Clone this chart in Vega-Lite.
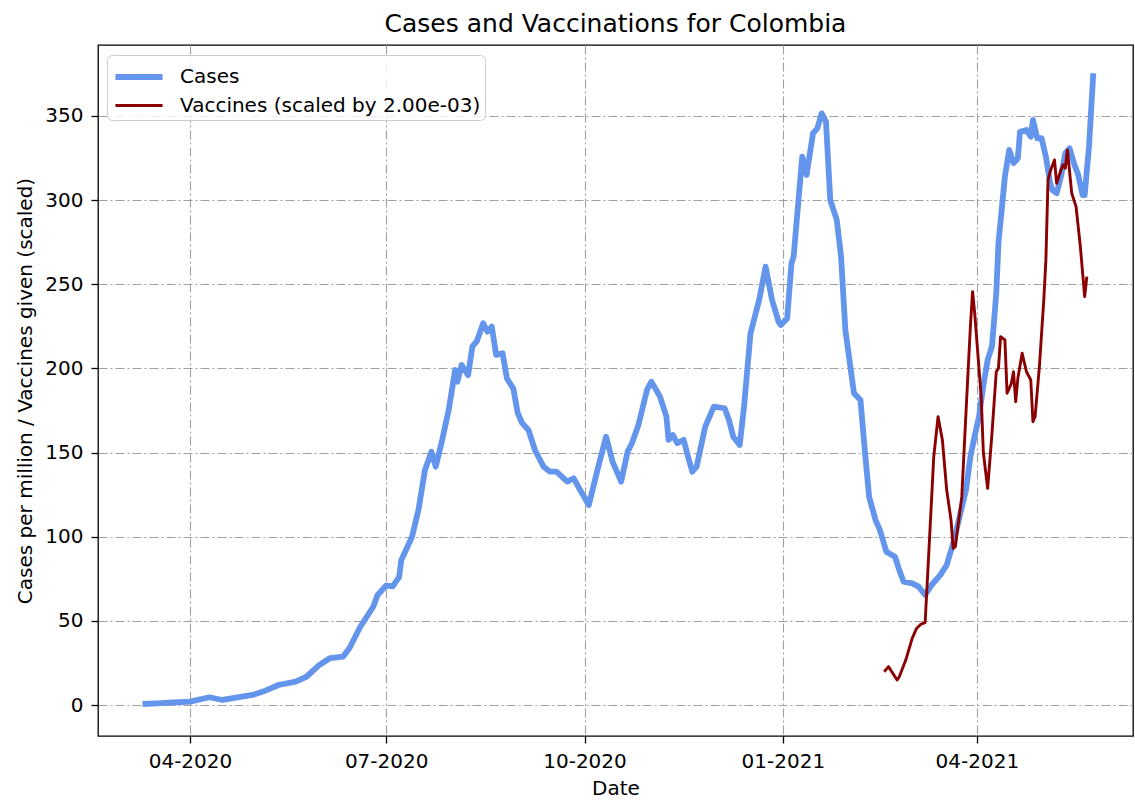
{
  "$schema": "https://vega.github.io/schema/vega-lite/v6.json",
  "autosize": {"type": "none"},
  "width": 1035,
  "height": 691,
  "padding": {"left": 98, "top": 45, "right": 2, "bottom": 65},
  "background": "white",
  "config": {
    "font": "DejaVu Sans",
    "view": {"stroke": "black", "strokeWidth": 1.3},
    "axis": {
      "labelFont": "DejaVu Sans", "titleFont": "DejaVu Sans",
      "labelFontSize": 20, "titleFontSize": 20, "labelColor": "black", "titleColor": "black",
      "titleFontWeight": "normal", "domain": false, "tickColor": "black", "tickSize": 7, "tickWidth": 1.3,
      "gridColor": "#a0a0a0", "gridDash": [9, 3, 2, 3], "gridWidth": 1.1, "gridOpacity": 1
    }
  },
  "title": {"text": "Cases and Vaccinations for Colombia", "fontSize": 25, "fontWeight": "normal", "font": "DejaVu Sans", "color": "black", "offset": 8, "anchor": "middle"},
  "data": {"values": [
    {"d": "2020-03-10", "v": 0.6, "s": "Cases"},
    {"d": "2020-03-17", "v": 1.0, "s": "Cases"},
    {"d": "2020-03-24", "v": 1.5, "s": "Cases"},
    {"d": "2020-04-01", "v": 2.0, "s": "Cases"},
    {"d": "2020-04-10", "v": 4.6, "s": "Cases"},
    {"d": "2020-04-16", "v": 3.0, "s": "Cases"},
    {"d": "2020-04-23", "v": 4.5, "s": "Cases"},
    {"d": "2020-04-30", "v": 6.0, "s": "Cases"},
    {"d": "2020-05-06", "v": 8.5, "s": "Cases"},
    {"d": "2020-05-12", "v": 11.9, "s": "Cases"},
    {"d": "2020-05-20", "v": 13.9, "s": "Cases"},
    {"d": "2020-05-25", "v": 16.8, "s": "Cases"},
    {"d": "2020-05-31", "v": 23.8, "s": "Cases"},
    {"d": "2020-06-05", "v": 27.9, "s": "Cases"},
    {"d": "2020-06-11", "v": 28.7, "s": "Cases"},
    {"d": "2020-06-14", "v": 33.9, "s": "Cases"},
    {"d": "2020-06-19", "v": 46.5, "s": "Cases"},
    {"d": "2020-06-25", "v": 58.4, "s": "Cases"},
    {"d": "2020-06-27", "v": 65.4, "s": "Cases"},
    {"d": "2020-07-01", "v": 71.0, "s": "Cases"},
    {"d": "2020-07-04", "v": 70.5, "s": "Cases"},
    {"d": "2020-07-07", "v": 76.0, "s": "Cases"},
    {"d": "2020-07-08", "v": 86.0, "s": "Cases"},
    {"d": "2020-07-13", "v": 100.0, "s": "Cases"},
    {"d": "2020-07-16", "v": 116.0, "s": "Cases"},
    {"d": "2020-07-19", "v": 139.6, "s": "Cases"},
    {"d": "2020-07-22", "v": 150.5, "s": "Cases"},
    {"d": "2020-07-24", "v": 141.6, "s": "Cases"},
    {"d": "2020-07-27", "v": 157.5, "s": "Cases"},
    {"d": "2020-07-30", "v": 175.3, "s": "Cases"},
    {"d": "2020-08-02", "v": 199.0, "s": "Cases"},
    {"d": "2020-08-03", "v": 192.0, "s": "Cases"},
    {"d": "2020-08-05", "v": 202.0, "s": "Cases"},
    {"d": "2020-08-08", "v": 196.0, "s": "Cases"},
    {"d": "2020-08-10", "v": 213.0, "s": "Cases"},
    {"d": "2020-08-12", "v": 216.0, "s": "Cases"},
    {"d": "2020-08-15", "v": 226.8, "s": "Cases"},
    {"d": "2020-08-17", "v": 221.8, "s": "Cases"},
    {"d": "2020-08-19", "v": 224.8, "s": "Cases"},
    {"d": "2020-08-21", "v": 208.0, "s": "Cases"},
    {"d": "2020-08-24", "v": 209.0, "s": "Cases"},
    {"d": "2020-08-26", "v": 194.0, "s": "Cases"},
    {"d": "2020-08-29", "v": 188.0, "s": "Cases"},
    {"d": "2020-08-31", "v": 173.5, "s": "Cases"},
    {"d": "2020-09-02", "v": 167.6, "s": "Cases"},
    {"d": "2020-09-05", "v": 163.4, "s": "Cases"},
    {"d": "2020-09-08", "v": 151.5, "s": "Cases"},
    {"d": "2020-09-12", "v": 141.6, "s": "Cases"},
    {"d": "2020-09-15", "v": 138.6, "s": "Cases"},
    {"d": "2020-09-18", "v": 138.6, "s": "Cases"},
    {"d": "2020-09-23", "v": 132.7, "s": "Cases"},
    {"d": "2020-09-26", "v": 134.7, "s": "Cases"},
    {"d": "2020-09-29", "v": 127.7, "s": "Cases"},
    {"d": "2020-10-03", "v": 118.8, "s": "Cases"},
    {"d": "2020-10-07", "v": 139.6, "s": "Cases"},
    {"d": "2020-10-11", "v": 159.4, "s": "Cases"},
    {"d": "2020-10-14", "v": 144.6, "s": "Cases"},
    {"d": "2020-10-18", "v": 132.7, "s": "Cases"},
    {"d": "2020-10-21", "v": 150.5, "s": "Cases"},
    {"d": "2020-10-23", "v": 155.5, "s": "Cases"},
    {"d": "2020-10-26", "v": 166.4, "s": "Cases"},
    {"d": "2020-10-30", "v": 187.2, "s": "Cases"},
    {"d": "2020-11-01", "v": 192.1, "s": "Cases"},
    {"d": "2020-11-05", "v": 183.2, "s": "Cases"},
    {"d": "2020-11-08", "v": 171.3, "s": "Cases"},
    {"d": "2020-11-09", "v": 157.5, "s": "Cases"},
    {"d": "2020-11-11", "v": 160.4, "s": "Cases"},
    {"d": "2020-11-13", "v": 155.5, "s": "Cases"},
    {"d": "2020-11-16", "v": 157.5, "s": "Cases"},
    {"d": "2020-11-18", "v": 147.6, "s": "Cases"},
    {"d": "2020-11-20", "v": 138.6, "s": "Cases"},
    {"d": "2020-11-22", "v": 141.6, "s": "Cases"},
    {"d": "2020-11-26", "v": 165.4, "s": "Cases"},
    {"d": "2020-11-30", "v": 177.3, "s": "Cases"},
    {"d": "2020-12-05", "v": 176.3, "s": "Cases"},
    {"d": "2020-12-07", "v": 169.3, "s": "Cases"},
    {"d": "2020-12-09", "v": 159.4, "s": "Cases"},
    {"d": "2020-12-12", "v": 154.5, "s": "Cases"},
    {"d": "2020-12-14", "v": 177.3, "s": "Cases"},
    {"d": "2020-12-17", "v": 220.8, "s": "Cases"},
    {"d": "2020-12-21", "v": 240.6, "s": "Cases"},
    {"d": "2020-12-24", "v": 260.4, "s": "Cases"},
    {"d": "2020-12-27", "v": 240.6, "s": "Cases"},
    {"d": "2020-12-30", "v": 227.8, "s": "Cases"},
    {"d": "2020-12-31", "v": 225.8, "s": "Cases"},
    {"d": "2021-01-03", "v": 229.7, "s": "Cases"},
    {"d": "2021-01-05", "v": 262.4, "s": "Cases"},
    {"d": "2021-01-06", "v": 266.4, "s": "Cases"},
    {"d": "2021-01-10", "v": 325.8, "s": "Cases"},
    {"d": "2021-01-12", "v": 314.9, "s": "Cases"},
    {"d": "2021-01-15", "v": 339.7, "s": "Cases"},
    {"d": "2021-01-17", "v": 342.6, "s": "Cases"},
    {"d": "2021-01-19", "v": 351.5, "s": "Cases"},
    {"d": "2021-01-21", "v": 346.6, "s": "Cases"},
    {"d": "2021-01-23", "v": 300.0, "s": "Cases"},
    {"d": "2021-01-26", "v": 288.2, "s": "Cases"},
    {"d": "2021-01-28", "v": 266.4, "s": "Cases"},
    {"d": "2021-01-30", "v": 222.8, "s": "Cases"},
    {"d": "2021-02-03", "v": 185.2, "s": "Cases"},
    {"d": "2021-02-06", "v": 181.2, "s": "Cases"},
    {"d": "2021-02-08", "v": 151.5, "s": "Cases"},
    {"d": "2021-02-10", "v": 123.8, "s": "Cases"},
    {"d": "2021-02-13", "v": 109.9, "s": "Cases"},
    {"d": "2021-02-15", "v": 104.0, "s": "Cases"},
    {"d": "2021-02-18", "v": 91.1, "s": "Cases"},
    {"d": "2021-02-22", "v": 88.1, "s": "Cases"},
    {"d": "2021-02-24", "v": 80.2, "s": "Cases"},
    {"d": "2021-02-26", "v": 73.3, "s": "Cases"},
    {"d": "2021-03-02", "v": 72.3, "s": "Cases"},
    {"d": "2021-03-05", "v": 70.3, "s": "Cases"},
    {"d": "2021-03-08", "v": 65.4, "s": "Cases"},
    {"d": "2021-03-11", "v": 71.3, "s": "Cases"},
    {"d": "2021-03-15", "v": 77.2, "s": "Cases"},
    {"d": "2021-03-18", "v": 83.2, "s": "Cases"},
    {"d": "2021-03-21", "v": 96.0, "s": "Cases"},
    {"d": "2021-03-24", "v": 111.9, "s": "Cases"},
    {"d": "2021-03-27", "v": 128.0, "s": "Cases"},
    {"d": "2021-03-29", "v": 147.6, "s": "Cases"},
    {"d": "2021-03-31", "v": 160.0, "s": "Cases"},
    {"d": "2021-04-02", "v": 171.3, "s": "Cases"},
    {"d": "2021-04-04", "v": 190.0, "s": "Cases"},
    {"d": "2021-04-06", "v": 205.0, "s": "Cases"},
    {"d": "2021-04-08", "v": 213.0, "s": "Cases"},
    {"d": "2021-04-10", "v": 244.6, "s": "Cases"},
    {"d": "2021-04-11", "v": 274.3, "s": "Cases"},
    {"d": "2021-04-14", "v": 313.9, "s": "Cases"},
    {"d": "2021-04-16", "v": 329.8, "s": "Cases"},
    {"d": "2021-04-18", "v": 321.9, "s": "Cases"},
    {"d": "2021-04-20", "v": 324.8, "s": "Cases"},
    {"d": "2021-04-21", "v": 340.6, "s": "Cases"},
    {"d": "2021-04-24", "v": 341.6, "s": "Cases"},
    {"d": "2021-04-26", "v": 337.6, "s": "Cases"},
    {"d": "2021-04-27", "v": 347.6, "s": "Cases"},
    {"d": "2021-04-29", "v": 336.7, "s": "Cases"},
    {"d": "2021-05-01", "v": 336.7, "s": "Cases"},
    {"d": "2021-05-03", "v": 325.8, "s": "Cases"},
    {"d": "2021-05-05", "v": 309.9, "s": "Cases"},
    {"d": "2021-05-06", "v": 306.0, "s": "Cases"},
    {"d": "2021-05-08", "v": 304.0, "s": "Cases"},
    {"d": "2021-05-10", "v": 313.9, "s": "Cases"},
    {"d": "2021-05-12", "v": 327.8, "s": "Cases"},
    {"d": "2021-05-14", "v": 330.7, "s": "Cases"},
    {"d": "2021-05-16", "v": 321.9, "s": "Cases"},
    {"d": "2021-05-18", "v": 315.0, "s": "Cases"},
    {"d": "2021-05-20", "v": 303.0, "s": "Cases"},
    {"d": "2021-05-21", "v": 303.0, "s": "Cases"},
    {"d": "2021-05-23", "v": 331.7, "s": "Cases"},
    {"d": "2021-05-25", "v": 375.3, "s": "Cases"},
    {"d": "2021-02-17", "v": 19.8, "s": "Vaccines (scaled by 2.00e-03)"},
    {"d": "2021-02-19", "v": 22.8, "s": "Vaccines (scaled by 2.00e-03)"},
    {"d": "2021-02-23", "v": 14.9, "s": "Vaccines (scaled by 2.00e-03)"},
    {"d": "2021-02-24", "v": 16.8, "s": "Vaccines (scaled by 2.00e-03)"},
    {"d": "2021-02-27", "v": 26.7, "s": "Vaccines (scaled by 2.00e-03)"},
    {"d": "2021-03-02", "v": 39.6, "s": "Vaccines (scaled by 2.00e-03)"},
    {"d": "2021-03-04", "v": 45.5, "s": "Vaccines (scaled by 2.00e-03)"},
    {"d": "2021-03-06", "v": 48.0, "s": "Vaccines (scaled by 2.00e-03)"},
    {"d": "2021-03-08", "v": 49.0, "s": "Vaccines (scaled by 2.00e-03)"},
    {"d": "2021-03-10", "v": 98.0, "s": "Vaccines (scaled by 2.00e-03)"},
    {"d": "2021-03-12", "v": 147.6, "s": "Vaccines (scaled by 2.00e-03)"},
    {"d": "2021-03-14", "v": 171.3, "s": "Vaccines (scaled by 2.00e-03)"},
    {"d": "2021-03-16", "v": 157.5, "s": "Vaccines (scaled by 2.00e-03)"},
    {"d": "2021-03-18", "v": 127.7, "s": "Vaccines (scaled by 2.00e-03)"},
    {"d": "2021-03-20", "v": 110.0, "s": "Vaccines (scaled by 2.00e-03)"},
    {"d": "2021-03-21", "v": 93.0, "s": "Vaccines (scaled by 2.00e-03)"},
    {"d": "2021-03-22", "v": 94.0, "s": "Vaccines (scaled by 2.00e-03)"},
    {"d": "2021-03-25", "v": 123.8, "s": "Vaccines (scaled by 2.00e-03)"},
    {"d": "2021-03-27", "v": 175.0, "s": "Vaccines (scaled by 2.00e-03)"},
    {"d": "2021-03-29", "v": 225.0, "s": "Vaccines (scaled by 2.00e-03)"},
    {"d": "2021-03-30", "v": 245.6, "s": "Vaccines (scaled by 2.00e-03)"},
    {"d": "2021-03-31", "v": 232.7, "s": "Vaccines (scaled by 2.00e-03)"},
    {"d": "2021-04-03", "v": 183.0, "s": "Vaccines (scaled by 2.00e-03)"},
    {"d": "2021-04-04", "v": 150.0, "s": "Vaccines (scaled by 2.00e-03)"},
    {"d": "2021-04-06", "v": 128.7, "s": "Vaccines (scaled by 2.00e-03)"},
    {"d": "2021-04-08", "v": 161.4, "s": "Vaccines (scaled by 2.00e-03)"},
    {"d": "2021-04-10", "v": 198.0, "s": "Vaccines (scaled by 2.00e-03)"},
    {"d": "2021-04-11", "v": 200.0, "s": "Vaccines (scaled by 2.00e-03)"},
    {"d": "2021-04-12", "v": 218.8, "s": "Vaccines (scaled by 2.00e-03)"},
    {"d": "2021-04-14", "v": 216.9, "s": "Vaccines (scaled by 2.00e-03)"},
    {"d": "2021-04-15", "v": 185.2, "s": "Vaccines (scaled by 2.00e-03)"},
    {"d": "2021-04-17", "v": 191.1, "s": "Vaccines (scaled by 2.00e-03)"},
    {"d": "2021-04-18", "v": 198.0, "s": "Vaccines (scaled by 2.00e-03)"},
    {"d": "2021-04-19", "v": 180.2, "s": "Vaccines (scaled by 2.00e-03)"},
    {"d": "2021-04-20", "v": 194.1, "s": "Vaccines (scaled by 2.00e-03)"},
    {"d": "2021-04-22", "v": 209.0, "s": "Vaccines (scaled by 2.00e-03)"},
    {"d": "2021-04-24", "v": 198.0, "s": "Vaccines (scaled by 2.00e-03)"},
    {"d": "2021-04-26", "v": 193.1, "s": "Vaccines (scaled by 2.00e-03)"},
    {"d": "2021-04-27", "v": 168.3, "s": "Vaccines (scaled by 2.00e-03)"},
    {"d": "2021-04-28", "v": 171.3, "s": "Vaccines (scaled by 2.00e-03)"},
    {"d": "2021-04-30", "v": 201.0, "s": "Vaccines (scaled by 2.00e-03)"},
    {"d": "2021-05-02", "v": 240.0, "s": "Vaccines (scaled by 2.00e-03)"},
    {"d": "2021-05-03", "v": 264.0, "s": "Vaccines (scaled by 2.00e-03)"},
    {"d": "2021-05-04", "v": 312.0, "s": "Vaccines (scaled by 2.00e-03)"},
    {"d": "2021-05-05", "v": 316.9, "s": "Vaccines (scaled by 2.00e-03)"},
    {"d": "2021-05-07", "v": 323.8, "s": "Vaccines (scaled by 2.00e-03)"},
    {"d": "2021-05-08", "v": 309.9, "s": "Vaccines (scaled by 2.00e-03)"},
    {"d": "2021-05-10", "v": 317.9, "s": "Vaccines (scaled by 2.00e-03)"},
    {"d": "2021-05-11", "v": 320.9, "s": "Vaccines (scaled by 2.00e-03)"},
    {"d": "2021-05-12", "v": 318.9, "s": "Vaccines (scaled by 2.00e-03)"},
    {"d": "2021-05-13", "v": 329.8, "s": "Vaccines (scaled by 2.00e-03)"},
    {"d": "2021-05-15", "v": 304.0, "s": "Vaccines (scaled by 2.00e-03)"},
    {"d": "2021-05-17", "v": 296.1, "s": "Vaccines (scaled by 2.00e-03)"},
    {"d": "2021-05-19", "v": 272.3, "s": "Vaccines (scaled by 2.00e-03)"},
    {"d": "2021-05-21", "v": 242.6, "s": "Vaccines (scaled by 2.00e-03)"},
    {"d": "2021-05-22", "v": 254.5, "s": "Vaccines (scaled by 2.00e-03)"}
  ]},
  "mark": {"type": "line", "interpolate": "linear", "strokeJoin": "round", "strokeCap": "butt"},
  "encoding": {
    "x": {
      "field": "d", "type": "temporal", "title": "Date",
      "scale": {"type": "utc", "domain": [{"year": 2020, "month": 2, "date": 18, "hours": 8, "utc": true}, {"year": 2021, "month": 6, "date": 12, "hours": 10, "utc": true}]},
      "axis": {
        "values": [{"year": 2020, "month": 4, "date": 1, "utc": true}, {"year": 2020, "month": 7, "date": 1, "utc": true}, {"year": 2020, "month": 10, "date": 1, "utc": true}, {"year": 2021, "month": 1, "date": 1, "utc": true}, {"year": 2021, "month": 4, "date": 1, "utc": true}],
        "format": "%m-%Y", "labelPadding": 8, "titlePadding": 7, "labelFlush": false
      }
    },
    "y": {
      "field": "v", "type": "quantitative", "title": "Cases per million / Vaccines given (scaled)",
      "scale": {"domain": [-18.4, 392.1], "nice": false, "zero": false},
      "axis": {"values": [0, 50, 100, 150, 200, 250, 300, 350], "labelPadding": 8, "titlePadding": 9}
    },
    "color": {
      "field": "s", "type": "nominal", "title": null,
      "scale": {"domain": ["Cases", "Vaccines (scaled by 2.00e-03)"], "range": ["#6495ED", "#8B0000"]},
      "legend": {
        "orient": "none", "legendX": 9, "legendY": 10, "symbolType": "M-1.57,0H1.57", "symbolSize": 900, "symbolOffset": 10,
        "labelFontSize": 20, "labelFont": "DejaVu Sans", "labelColor": "black", "labelOffset": 23, "labelLimit": 0,
        "rowPadding": 0, "padding": 4, "strokeColor": "#cccccc", "cornerRadius": 5, "fillColor": "rgba(255,255,255,0.8)"
      }
    },
    "strokeWidth": {
      "field": "s", "type": "nominal", "title": null,
      "scale": {"domain": ["Cases", "Vaccines (scaled by 2.00e-03)"], "range": [5.8, 2.9]},
      "legend": {
        "orient": "none", "legendX": 9, "legendY": 10, "symbolType": "M-1.57,0H1.57", "symbolSize": 900, "symbolOffset": 10,
        "labelFontSize": 20, "labelFont": "DejaVu Sans", "labelColor": "black", "labelOffset": 23, "labelLimit": 0,
        "rowPadding": 0, "padding": 4, "strokeColor": "#cccccc", "cornerRadius": 5, "fillColor": "rgba(255,255,255,0.8)"
      }
    }
  }
}
